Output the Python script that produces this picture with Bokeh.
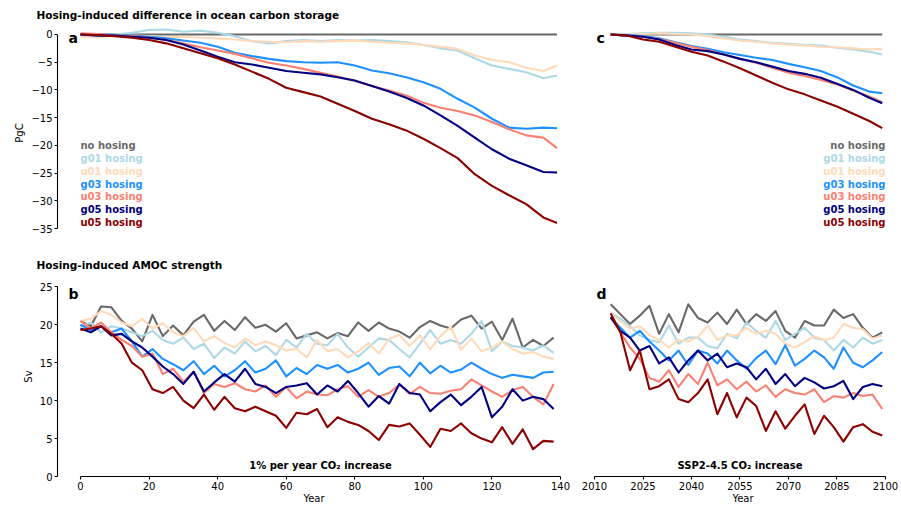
from bokeh.plotting import figure
from bokeh.layouts import column, row
from bokeh.models import Range1d, FixedTicker, Title
from bokeh.core.properties import value
from bokeh.embed import file_html
from bokeh.resources import INLINE

FONT = "DejaVu Sans"

run_names = ["no hosing", "g01 hosing", "u01 hosing", "g03 hosing",
             "u03 hosing", "g05 hosing", "u05 hosing"]
run_colors = ["dimgray", "lightblue", "peachpuff", "dodgerblue",
              "salmon", "navy", "darkred"]

# ---- ocean carbon storage difference (PgC), 1% per year CO2 run ----
carbon_years_1pct = list(range(0, 140, 5)) + [139]
carbon_1pct_none = [0.0, 0.0, 0.0, 0.0, 0.0, 0.0, 0.0, 0.0, 0.0, 0.0, 0.0, 0.0, 0.0, 0.0, 0.0,
                    0.0, 0.0, 0.0, 0.0, 0.0, 0.0, 0.0, 0.0, 0.0, 0.0, 0.0, 0.0, 0.0, 0.0]
carbon_1pct_g01 = [-0.2, -0.1, 0.0, 0.3, 0.8, 0.9, 0.5, 0.7, 0.3, -0.3, -1.2, -1.6, -1.2, -1.0, -1.2,
                   -1.0, -1.1, -1.0, -1.2, -1.4, -1.9, -2.5, -2.9, -4.3, -5.6, -6.2, -6.8, -7.9, -7.4]
carbon_1pct_u01 = [-0.4, -0.5, -0.3, -0.2, -0.3, -0.5, -0.4, -0.6, -0.7, -0.9, -1.2, -1.3, -1.4, -1.2, -1.3,
                   -1.2, -1.1, -1.3, -1.5, -1.6, -1.9, -2.2, -2.6, -3.8, -4.6, -5.0, -6.0, -6.6, -5.6]
carbon_1pct_g03 = [0.0, 0.1, -0.1, -0.2, -0.4, -0.7, -1.1, -1.5, -2.2, -3.3, -3.9, -4.4, -4.8, -5.0, -5.1,
                   -5.0, -5.6, -6.5, -7.0, -7.7, -8.6, -9.8, -11.6, -13.2, -15.2, -16.8, -17.0, -16.8, -16.9]
carbon_1pct_u03 = [0.2, 0.1, -0.2, -0.3, -0.6, -1.0, -1.6, -2.3, -2.9, -3.5, -4.3, -5.1, -5.6, -6.2, -6.9,
                   -7.6, -8.4, -9.3, -10.1, -11.0, -12.3, -13.2, -13.8, -14.6, -15.8, -17.1, -18.2, -18.6, -20.5]
carbon_1pct_g05 = [0.0, -0.2, -0.2, -0.4, -0.6, -1.0, -1.8, -2.9, -4.0, -5.0, -5.4, -6.0, -6.6, -6.9, -7.2,
                   -7.7, -8.3, -9.3, -10.3, -11.4, -12.8, -14.6, -16.5, -18.6, -20.7, -22.4, -23.6, -24.8, -24.9]
carbon_1pct_u05 = [0.0, -0.1, -0.3, -0.6, -1.0, -1.6, -2.5, -3.4, -4.3, -5.4, -6.7, -8.0, -9.6, -10.4, -11.2,
                   -12.5, -13.8, -15.2, -16.2, -17.3, -18.8, -20.5, -22.3, -25.2, -27.3, -29.0, -30.6, -33.0, -34.0]

# ---- ocean carbon storage difference (PgC), SSP2-4.5 run ----
carbon_years_ssp = list(range(2015, 2100, 5)) + [2099]
carbon_ssp_none = [0.0, 0.0, 0.0, 0.0, 0.0, 0.0, 0.0, 0.0, 0.0, 0.0, 0.0, 0.0, 0.0, 0.0, 0.0, 0.0, 0.0, 0.0]
carbon_ssp_g01 = [0.0, 0.1, 0.2, 0.3, 0.3, 0.2, 0.0, -0.4, -0.9, -1.2, -1.5, -1.7, -1.9, -2.0, -2.4, -2.7, -3.1, -3.6]
carbon_ssp_u01 = [0.0, 0.0, 0.1, 0.2, 0.1, 0.0, -0.3, -0.7, -1.1, -1.3, -1.6, -1.8, -2.0, -2.2, -2.3, -2.5, -2.7, -2.6]
carbon_ssp_g03 = [0.0, -0.1, -0.3, -0.7, -1.4, -2.1, -2.6, -3.2, -3.7, -4.2, -4.6, -5.3, -5.9, -6.6, -7.7, -9.2, -10.3, -10.6]
carbon_ssp_u03 = [0.0, -0.2, -0.4, -0.8, -1.5, -2.2, -2.8, -3.6, -4.4, -5.1, -6.0, -6.9, -7.5, -8.2, -9.0, -10.1, -11.2, -12.2]
carbon_ssp_g05 = [0.0, -0.2, -0.4, -0.9, -1.9, -2.7, -3.0, -3.6, -4.4, -5.0, -5.8, -6.6, -7.1, -7.8, -8.9, -10.0, -11.4, -12.4]
carbon_ssp_u05 = [0.0, -0.2, -0.9, -1.3, -2.2, -3.1, -3.8, -4.9, -6.1, -7.4, -8.7, -9.9, -10.8, -11.9, -13.0, -14.3, -15.6, -16.9]

# ---- AMOC strength (Sv), 1% per year CO2 run ----
amoc_years_1pct = list(range(0, 140, 3))
amoc_1pct_none = [20.5, 19.8, 22.4, 22.3, 20.5, 19.5, 17.8, 21.3, 18.5, 19.9, 18.6, 20.4, 21.3, 19.2, 20.5, 19.3,
                  21.0, 19.6, 20.0, 19.1, 20.2, 18.2, 18.6, 19.0, 18.2, 18.9, 18.5, 20.3, 19.2, 20.3, 19.5, 19.1,
                  18.3, 19.7, 20.5, 19.9, 19.5, 20.7, 21.2, 19.5, 20.4, 18.0, 20.8, 17.0, 18.0, 17.2, 18.3]
amoc_1pct_g01 = [19.8, 20.3, 19.0, 19.8, 19.5, 19.0, 18.5, 19.2, 18.0, 17.5, 18.3, 16.8, 17.5, 15.6, 17.0, 16.2,
                 17.8, 16.5, 17.2, 16.0, 18.0, 17.0, 18.8, 17.5, 17.3, 18.8, 17.0, 15.8, 17.0, 18.2, 18.0, 16.8,
                 15.7, 17.5, 19.3, 17.5, 18.0, 17.5, 18.8, 20.5, 16.5, 17.8, 17.2, 17.0, 16.6, 17.3, 16.3]
amoc_1pct_u01 = [20.5, 20.8, 21.8, 21.3, 20.3, 19.8, 20.8, 19.5, 20.2, 19.0, 18.5, 19.6, 17.8, 18.5, 17.6, 17.0,
                 18.2, 17.3, 17.8, 17.3, 16.6, 16.8, 15.7, 18.0, 16.5, 16.8, 15.7, 16.5, 17.6, 16.2, 18.1, 18.7,
                 17.2, 18.6, 16.8, 18.5, 19.7, 16.7, 18.2, 16.5, 17.0, 17.8, 16.8, 16.2, 16.4, 15.8, 15.5]
amoc_1pct_g03 = [20.0, 19.3, 19.8, 19.0, 19.5, 17.8, 15.8, 16.8, 15.5, 14.8, 14.0, 15.2, 13.5, 14.6, 13.2, 14.0,
                 15.2, 13.7, 14.2, 15.3, 13.2, 14.3, 13.5, 14.7, 14.2, 14.7, 13.7, 14.2, 15.0, 13.4, 14.3, 14.5,
                 13.2, 15.0, 13.6, 14.6, 13.7, 14.1, 15.0, 14.2, 13.5, 13.0, 13.4, 13.2, 13.0, 13.7, 13.8]
amoc_1pct_u03 = [20.5, 19.5, 20.3, 19.0, 18.0, 17.2, 15.8, 16.2, 13.5, 14.2, 12.5, 13.8, 11.0, 12.2, 11.8, 12.3,
                 11.5, 11.2, 12.0, 10.5, 11.8, 10.3, 11.2, 10.8, 10.7, 11.5, 11.9, 10.5, 11.4, 10.5, 11.0, 12.1,
                 10.9, 11.8, 11.0, 10.9, 11.3, 11.5, 12.8, 12.0, 11.2, 10.5, 11.4, 11.8, 10.5, 9.5, 12.2]
amoc_1pct_g05 = [19.5, 19.0, 19.8, 18.6, 18.8, 17.8, 17.0, 15.8, 14.5, 13.5, 12.2, 13.8, 11.2, 12.4, 13.5, 12.5,
                 14.2, 12.2, 11.8, 11.0, 11.8, 12.0, 12.3, 10.8, 12.0, 11.2, 12.6, 11.0, 9.2, 10.6, 9.6, 12.2,
                 11.0, 10.8, 8.6, 9.8, 10.8, 9.4, 10.5, 11.8, 7.8, 9.2, 11.5, 10.0, 10.5, 10.2, 8.9]
amoc_1pct_u05 = [19.3, 19.5, 19.8, 18.8, 17.5, 15.0, 14.0, 11.5, 11.0, 11.8, 10.0, 9.0, 10.8, 8.8, 10.5, 9.0,
                 8.6, 9.2, 8.6, 8.0, 6.4, 8.4, 8.2, 8.9, 6.5, 7.8, 7.2, 6.8, 6.0, 4.8, 6.8, 6.6,
                 7.0, 5.5, 3.9, 6.3, 6.0, 7.0, 5.7, 5.0, 4.5, 6.5, 4.3, 6.2, 3.6, 4.7, 4.6]

# ---- AMOC strength (Sv), SSP2-4.5 run ----
amoc_years_ssp = list(range(2015, 2100, 3))
amoc_ssp_none = [22.7, 21.4, 20.1, 21.2, 22.5, 18.8, 21.4, 19.0, 22.7, 20.9, 20.3, 21.6, 20.1, 22.0, 20.1,
                 21.4, 20.5, 21.8, 19.2, 18.3, 20.5, 19.9, 19.9, 22.0, 20.9, 21.4, 19.6, 18.3, 19.0]
amoc_ssp_g01 = [21.6, 20.8, 19.8, 18.6, 18.0, 17.7, 19.9, 17.5, 18.3, 18.3, 17.2, 16.9, 18.8, 18.2, 20.3,
                19.2, 18.3, 20.5, 18.0, 18.8, 19.6, 18.3, 18.0, 16.6, 18.0, 17.0, 18.3, 17.5, 18.0]
amoc_ssp_u01 = [21.5, 20.5, 19.5, 19.8, 18.6, 18.0, 17.0, 18.0, 17.8, 18.4, 19.9, 18.0, 18.6, 18.6, 19.6,
                18.8, 19.2, 18.8, 17.5, 17.0, 17.7, 18.5, 18.0, 18.3, 20.1, 19.6, 19.4, 18.2, 18.6]
amoc_ssp_g03 = [20.9, 19.6, 18.3, 19.2, 17.8, 16.6, 15.3, 16.6, 14.7, 16.6, 16.2, 14.9, 16.6, 15.3, 14.2,
                15.6, 16.6, 14.8, 17.3, 14.6, 15.5, 16.6, 15.7, 14.2, 17.0, 15.0, 14.4, 15.3, 16.4]
amoc_ssp_u03 = [21.0, 19.0, 17.0, 15.5, 13.0, 12.5, 14.0, 11.8, 13.5, 12.2, 15.0, 12.0, 12.8, 11.5, 12.5,
                11.2, 12.0, 10.5, 11.5, 11.0, 10.8, 11.5, 9.8, 10.6, 10.4, 11.0, 10.6, 10.8, 8.9]
amoc_ssp_g05 = [21.0, 19.2, 18.3, 16.6, 17.2, 14.9, 15.7, 13.7, 15.3, 16.6, 15.3, 16.2, 14.4, 14.9, 14.4,
                12.8, 14.2, 12.2, 13.5, 11.9, 13.0, 12.4, 11.6, 11.9, 12.6, 10.2, 11.8, 12.2, 11.9]
amoc_ssp_u05 = [21.5, 19.0, 14.0, 16.6, 11.5, 11.9, 12.8, 10.2, 9.8, 11.0, 12.8, 8.2, 11.0, 7.8, 10.4,
                9.3, 6.0, 8.6, 6.3, 8.0, 9.5, 5.6, 8.0, 6.5, 4.6, 6.5, 6.9, 5.9, 5.4]

carbon_ticks = [0, -5, -10, -15, -20, -25, -30, -35]
amoc_ticks = [0, 5, 10, 15, 20, 25]
year_ticks_1pct = [0, 20, 40, 60, 80, 100, 120, 140]
year_ticks_ssp = [2010, 2025, 2040, 2055, 2070, 2085, 2100]

carbon_1pct = [carbon_1pct_none, carbon_1pct_g01, carbon_1pct_u01, carbon_1pct_g03,
               carbon_1pct_u03, carbon_1pct_g05, carbon_1pct_u05]
carbon_ssp = [carbon_ssp_none, carbon_ssp_g01, carbon_ssp_u01, carbon_ssp_g03,
              carbon_ssp_u03, carbon_ssp_g05, carbon_ssp_u05]
amoc_1pct = [amoc_1pct_none, amoc_1pct_g01, amoc_1pct_u01, amoc_1pct_g03,
             amoc_1pct_u03, amoc_1pct_g05, amoc_1pct_u05]
amoc_ssp = [amoc_ssp_none, amoc_ssp_g01, amoc_ssp_u01, amoc_ssp_g03,
            amoc_ssp_u03, amoc_ssp_g05, amoc_ssp_u05]

X_1PCT = (-6.71, 142.92)
X_SSP = (2008.76, 2103.1)
Y_CARBON = (-37.16, 1.62)
Y_AMOC = (0.0, 26.36)


def make_fig(width, height, xr, yr, left, right, top, bottom, xaxis, yaxis):
    p = figure(width=width, height=height,
               x_range=Range1d(*xr), y_range=Range1d(*yr),
               output_backend="svg", toolbar_location=None,
               x_axis_location="below" if xaxis else None,
               y_axis_location="left" if yaxis else None,
               min_border_left=left, min_border_right=right,
               min_border_top=top, min_border_bottom=bottom)
    p.xgrid.visible = False
    p.ygrid.visible = False
    p.outline_line_color = None
    p.background_fill_color = "white"
    p.border_fill_color = "white"
    return p


def style_axis(ax, ticks, bounds, label):
    ax.ticker = FixedTicker(ticks=ticks)
    ax.bounds = bounds
    ax.major_label_overrides = {t: (("\u2212" + str(abs(t))) if t < 0 else str(t)) for t in ticks}
    ax.axis_line_color = "black"
    ax.axis_line_width = 1.1
    ax.major_tick_line_color = "black"
    ax.major_tick_line_width = 1.1
    ax.major_tick_in = 0
    ax.major_tick_out = 3
    ax.minor_tick_line_color = None
    ax.major_label_standoff = 2
    ax.major_label_text_font = FONT
    ax.major_label_text_font_size = "10px"
    ax.major_label_text_color = "black"
    ax.axis_label = label
    ax.axis_label_standoff = 3
    ax.axis_label_text_font = FONT
    ax.axis_label_text_font_size = "10px"
    ax.axis_label_text_font_style = "normal"
    ax.axis_label_text_color = "black"


def add_title(p, text, standoff):
    p.add_layout(Title(text=text, align="left", offset=-21, standoff=standoff,
                       text_font=FONT, text_font_size="10.5px", text_font_style="bold",
                       text_color="black"), "above")


def draw_runs(p, years, series):
    for vals, col in zip(series, run_colors):
        p.line(years, vals, line_color=col, line_width=2.1, line_join="round")


def panel_letter(p, x, y, letter):
    p.text(x=[x], y=[y], text=[letter], text_font=value(FONT), text_font_size="14px",
           text_font_style="bold", text_color="black", text_baseline="alphabetic",
           text_align="left")


def run_legend(p, x, align):
    top, step = -20.1, 2.3
    ys = [top - i * step for i in range(len(run_names))]
    p.text(x=[x] * len(run_names), y=ys, text=run_names, text_color=run_colors,
           text_font=value(FONT), text_font_size="10px", text_font_style="bold",
           text_baseline="middle", text_align=align)


def scenario_note(p, x, text):
    p.text(x=[x], y=[1.5], text=[text], text_font=value(FONT), text_font_size="10px",
           text_font_style="bold", text_color="black", text_baseline="middle",
           text_align="center")


# a: carbon, 1% per year
pa = make_fig(580, 250, X_1PCT, Y_CARBON, 57, 10, 25, 10, False, True)
style_axis(pa.yaxis[0], carbon_ticks, (-35, 0), "PgC")
add_title(pa, "Hosing-induced difference in ocean carbon storage", 9)
draw_runs(pa, carbon_years_1pct, carbon_1pct)
panel_letter(pa, -3.5, -0.6, "a")
run_legend(pa, 0, "left")

# c: carbon, SSP2-4.5
pc = make_fig(321, 250, X_SSP, Y_CARBON, 10, 6, 25, 10, False, False)
draw_runs(pc, carbon_years_ssp, carbon_ssp)
panel_letter(pc, 2010.6, -0.6, "c")
run_legend(pc, 2100, "right")

# b: AMOC, 1% per year
pb = make_fig(580, 256, X_1PCT, Y_AMOC, 57, 10, 25, 28, True, True)
style_axis(pb.yaxis[0], amoc_ticks, (0, 25), "Sv")
style_axis(pb.xaxis[0], year_ticks_1pct, (0, 140), "Year")
pb.xaxis[0].axis_label_standoff = 0
add_title(pb, "Hosing-induced AMOC strength", 12)
draw_runs(pb, amoc_years_1pct, amoc_1pct)
panel_letter(pb, -3.5, 24.05, "b")
scenario_note(pb, 70, "1% per year CO\u2082 increase")

# d: AMOC, SSP2-4.5
pd_ = make_fig(321, 256, X_SSP, Y_AMOC, 10, 6, 25, 28, True, False)
style_axis(pd_.xaxis[0], year_ticks_ssp, (2010, 2100), "Year")
pd_.xaxis[0].axis_label_standoff = 0
draw_runs(pd_, amoc_years_ssp, amoc_ssp)
panel_letter(pd_, 2010.6, 24.05, "d")
scenario_note(pd_, 2055, "SSP2-4.5 CO\u2082 increase")

layout = column(row(pa, pc), row(pb, pd_))

with open("out.html", "w") as f:
    f.write(file_html(layout, INLINE))
